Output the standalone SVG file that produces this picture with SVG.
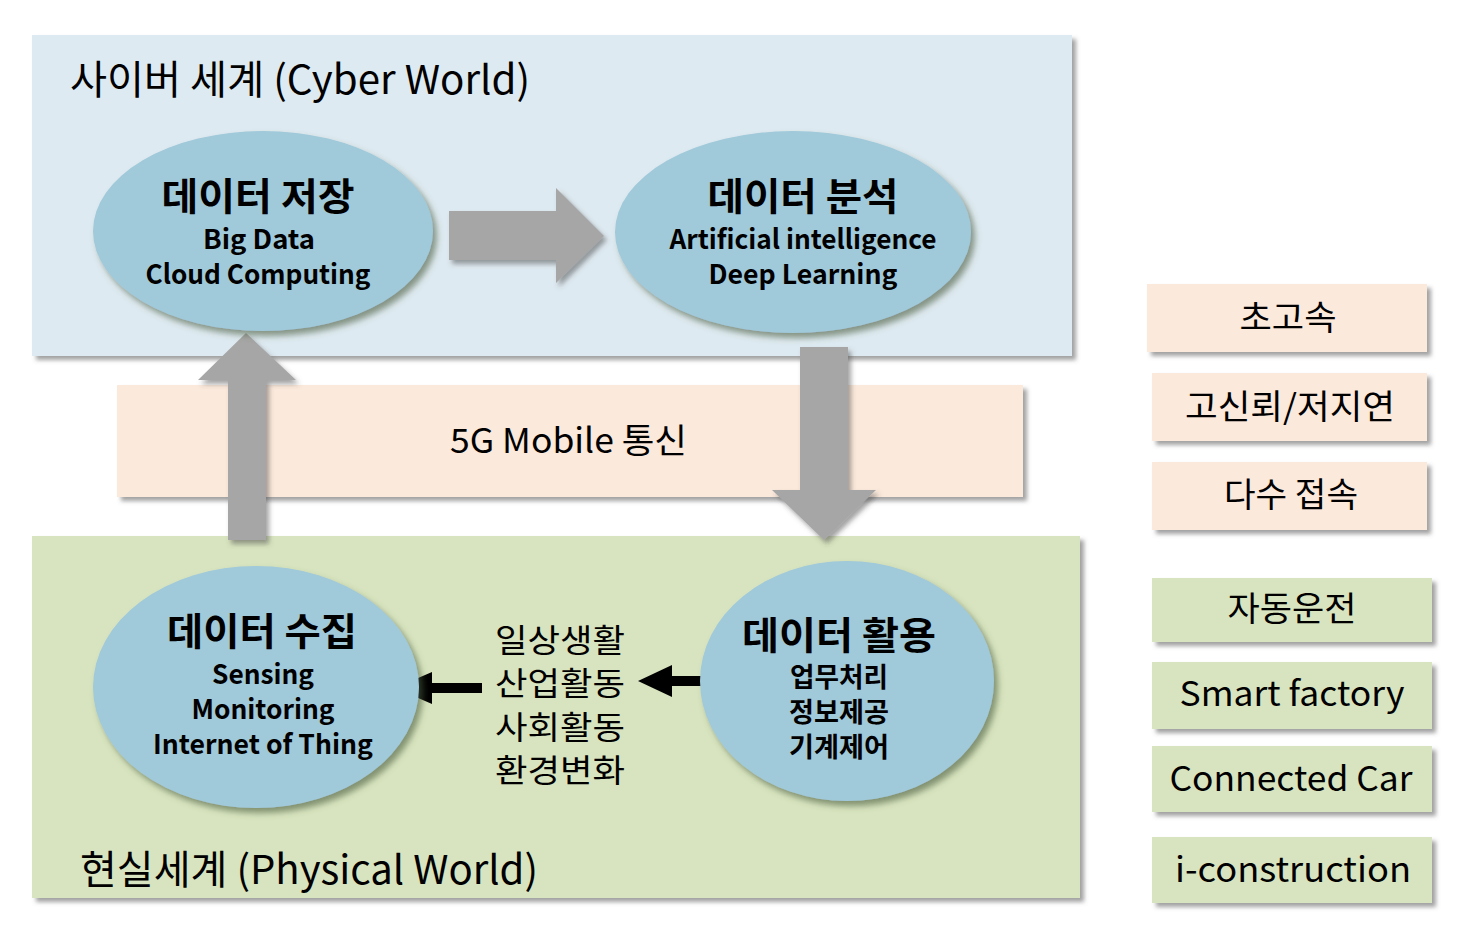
<svg xmlns="http://www.w3.org/2000/svg" width="1476" height="950" viewBox="0 0 1476 950">
  <defs>
    <filter id="boxShadow" x="-5%" y="-5%" width="115%" height="120%">
      <feDropShadow dx="4" dy="4" stdDeviation="2" flood-color="#555" flood-opacity="0.55"/>
    </filter>
    <filter id="ovalShadow" x="-10%" y="-10%" width="125%" height="125%">
      <feDropShadow dx="4" dy="5" stdDeviation="3" flood-color="#4a5a3a" flood-opacity="0.6"/>
    </filter>
    <filter id="arrowShadow" x="-20%" y="-20%" width="150%" height="150%">
      <feDropShadow dx="3" dy="4" stdDeviation="2.5" flood-color="#444" flood-opacity="0.5"/>
    </filter>
  </defs>
  <style>
    text { font-family: "Noto Sans CJK KR", "Noto Sans", sans-serif; fill: #000; }
    .world { font-size: 40px; }
    .band { font-size: 34px; }
    .title { font-size: 38px; font-weight: bold; text-anchor: middle; }
    .sub { font-size: 27px; font-weight: bold; text-anchor: middle; }
    .mid { font-size: 32px; }
    .side { font-size: 34px; text-anchor: middle; }
    .oval { fill: #a0c9da; filter: url(#ovalShadow); }
    .peach { fill: #fbe9db; filter: url(#boxShadow); }
    .green { fill: #d8e4bf; filter: url(#boxShadow); }
    .grey { fill: #a6a6a6; filter: url(#arrowShadow); }
    .black { fill: #000; }
  </style>

  <!-- background panels -->
  <g id="cyber-world">
    <rect x="32" y="35" width="1040" height="321" fill="#deeaf1" filter="url(#boxShadow)"/>
    <text class="world" x="70" y="94" textLength="460" lengthAdjust="spacingAndGlyphs">사이버 세계 (Cyber World)</text>
  </g>
  <g id="mobile-5g">
    <rect x="117" y="385" width="906" height="112" class="peach"/>
    <text class="band" x="450" y="453" textLength="237" lengthAdjust="spacingAndGlyphs">5G Mobile 통신</text>
  </g>
  <g id="physical-world">
    <rect x="32" y="536" width="1048" height="362" fill="#d8e4bf" filter="url(#boxShadow)"/>
    <text class="world" x="80" y="884" textLength="458" lengthAdjust="spacingAndGlyphs">현실세계 (Physical World)</text>
  </g>

  <!-- connectors -->
  <g id="connectors">
    <polygon class="grey" points="449,211 556,211 556,188 604,236 556,283 556,260 449,260"/>
    <polygon class="grey" points="800,347 848,347 848,490 876,490 824,540 772,490 800,490"/>
    <polygon class="grey" points="228,540 266,540 266,380 296,380 246,333 198,380 228,380"/>
    <polygon class="black" points="482,683 432,683 432,672 395,688 432,704 432,693 482,693"/>
    <polygon class="black" points="708,676 672,676 672,665 638,681 672,697 672,686 708,686"/>
  </g>

  <!-- process nodes -->
  <g id="data-store">
    <ellipse class="oval" cx="263" cy="231" rx="170" ry="100"/>
    <text class="title" x="258" y="210" textLength="193" lengthAdjust="spacingAndGlyphs">데이터 저장</text>
    <text class="sub" x="259" y="249" textLength="112" lengthAdjust="spacingAndGlyphs">Big Data</text>
    <text class="sub" x="258" y="284" textLength="225" lengthAdjust="spacingAndGlyphs">Cloud Computing</text>
  </g>
  <g id="data-analysis">
    <ellipse class="oval" cx="793" cy="232" rx="178" ry="101"/>
    <text class="title" x="803" y="210" textLength="191" lengthAdjust="spacingAndGlyphs">데이터 분석</text>
    <text class="sub" x="803" y="249" textLength="267" lengthAdjust="spacingAndGlyphs">Artificial intelligence</text>
    <text class="sub" x="803" y="284" textLength="189" lengthAdjust="spacingAndGlyphs">Deep Learning</text>
  </g>
  <g id="data-collect">
    <ellipse class="oval" cx="256" cy="687" rx="163" ry="121"/>
    <text class="title" x="262" y="645" textLength="190" lengthAdjust="spacingAndGlyphs">데이터 수집</text>
    <text class="sub" x="263" y="684" textLength="102" lengthAdjust="spacingAndGlyphs">Sensing</text>
    <text class="sub" x="263" y="719" textLength="143" lengthAdjust="spacingAndGlyphs">Monitoring</text>
    <text class="sub" x="263" y="754" textLength="220" lengthAdjust="spacingAndGlyphs">Internet of Thing</text>
  </g>
  <g id="data-use">
    <ellipse class="oval" cx="847" cy="681" rx="147" ry="120"/>
    <text class="title" x="839" y="649" textLength="194" lengthAdjust="spacingAndGlyphs">데이터 활용</text>
    <text class="sub" x="839" y="687" textLength="98" lengthAdjust="spacingAndGlyphs">업무처리</text>
    <text class="sub" x="839" y="722" textLength="100" lengthAdjust="spacingAndGlyphs">정보제공</text>
    <text class="sub" x="839" y="757" textLength="100" lengthAdjust="spacingAndGlyphs">기계제어</text>
  </g>

  <!-- real-world activities -->
  <g id="activities">
    <text class="mid" x="495" y="652" textLength="130" lengthAdjust="spacingAndGlyphs">일상생활</text>
    <text class="mid" x="495" y="695" textLength="130" lengthAdjust="spacingAndGlyphs">산업활동</text>
    <text class="mid" x="495" y="739" textLength="130" lengthAdjust="spacingAndGlyphs">사회활동</text>
    <text class="mid" x="495" y="782" textLength="130" lengthAdjust="spacingAndGlyphs">환경변화</text>
  </g>

  <!-- 5G features -->
  <g id="feature-speed">
    <rect x="1147" y="284" width="280" height="68" class="peach"/>
    <text class="side" x="1288" y="330" textLength="97" lengthAdjust="spacingAndGlyphs">초고속</text>
  </g>
  <g id="feature-latency">
    <rect x="1152" y="373" width="275" height="68" class="peach"/>
    <text class="side" x="1290" y="419" textLength="210" lengthAdjust="spacingAndGlyphs">고신뢰/저지연</text>
  </g>
  <g id="feature-access">
    <rect x="1152" y="462" width="275" height="68" class="peach"/>
    <text class="side" x="1291" y="507" textLength="134" lengthAdjust="spacingAndGlyphs">다수 접속</text>
  </g>

  <!-- applications -->
  <g id="app-autonomous">
    <rect x="1152" y="578" width="280" height="64" class="green"/>
    <text class="side" x="1292" y="621" textLength="129" lengthAdjust="spacingAndGlyphs">자동운전</text>
  </g>
  <g id="app-factory">
    <rect x="1152" y="662" width="280" height="67" class="green"/>
    <text class="side" x="1292" y="706" textLength="225" lengthAdjust="spacingAndGlyphs">Smart factory</text>
  </g>
  <g id="app-car">
    <rect x="1152" y="746" width="280" height="66" class="green"/>
    <text class="side" x="1291" y="791" textLength="243" lengthAdjust="spacingAndGlyphs">Connected Car</text>
  </g>
  <g id="app-construction">
    <rect x="1152" y="837" width="280" height="66" class="green"/>
    <text class="side" x="1293" y="882" textLength="236" lengthAdjust="spacingAndGlyphs">i-construction</text>
  </g>
</svg>
